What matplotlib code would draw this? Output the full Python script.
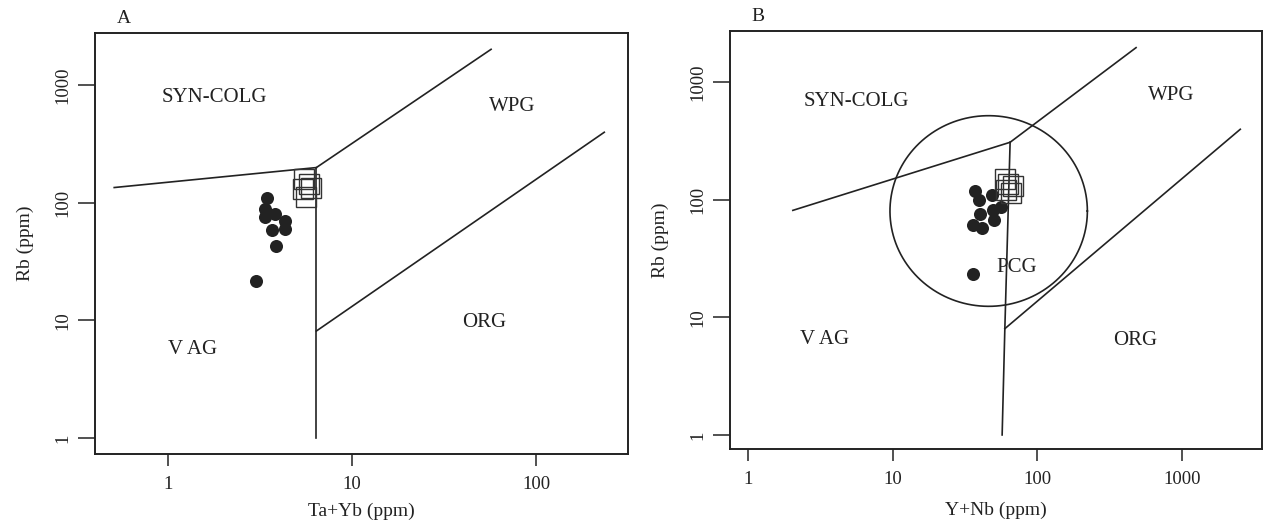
import numpy as np
import matplotlib
matplotlib.use("Agg")
import matplotlib.pyplot as plt
from matplotlib.ticker import FixedLocator, NullLocator, FixedFormatter

plt.rcParams["font.family"] = ["Liberation Serif", "DejaVu Serif"]

INK = "#222222"

# ---- panel A: Rb vs Ta+Yb ----
a_circle_x = [3.47, 3.35, 3.38, 3.80, 4.31, 4.31, 3.69, 3.88, 2.99]
a_circle_y = [109.6, 88.4, 76.0, 80.2, 70.3, 59.8, 58.0, 42.7, 21.4]
a_square_x = [5.51, 5.97, 5.60, 5.40, 5.82]
a_square_y = [158.7, 134.0, 110.9, 131.4, 145.0]

a_bounds = [
    ([0.51, 6.4], [134, 198]),          # syn-COLG / VAG
    ([6.4, 57], [198, 2000]),           # syn-COLG / WPG
    ([6.4, 6.4], [198, 1]),             # VAG / ORG
    ([6.4, 235], [8.1, 395]),           # WPG / ORG
]
a_labels = [("SYN-COLG", 0.92, 780), ("WPG", 55.3, 655),
            ("ORG", 39.5, 9.6), ("V AG", 1.0, 5.6)]

# ---- panel B: Rb vs Y+Nb ----
b_circle_x = [37.0, 39.7, 48.3, 40.1, 36.1, 41.4, 49.1, 55.7, 50.1, 35.7]
b_circle_y = [119.3, 100.0, 109.6, 75.0, 61.4, 57.5, 82.2, 86.0, 67.6, 23.5]
b_square_x = [59.4, 62.9, 66.0, 60.7, 67.8]
b_square_y = [150.0, 136.7, 114.7, 121.6, 131.5]

b_bounds = [
    ([2.04, 64.7], [81, 307]),              # syn-COLG / VAG
    ([64.7, 480], [307, 1956]),             # syn-COLG / WPG
    ([64.7, 59.5, 57], [307, 8, 1]),        # VAG / ORG
    ([59.5, 2520], [8, 396]),               # WPG / ORG
]
b_labels = [("SYN-COLG", 2.44, 684), ("WPG", 581, 769), ("ORG", 333, 6.3),
            ("V AG", 2.29, 6.5), ("PCG", 51.8, 26.3)]
# post-collision granite field: centre and radii in log decades
pcg_center = (46, 80)
pcg_radius = (0.682, 0.81)


def setup_axes(ax, xlim, ylim, xticks, yticks, xlabel, title, xpad):
    ax.set_xscale("log")
    ax.set_yscale("log")
    ax.set_xlim(*xlim)
    ax.set_ylim(*ylim)
    ax.xaxis.set_major_locator(FixedLocator(xticks))
    ax.xaxis.set_major_formatter(FixedFormatter([str(t) for t in xticks]))
    ax.yaxis.set_major_locator(FixedLocator(yticks))
    ax.yaxis.set_major_formatter(FixedFormatter([str(t) for t in yticks]))
    ax.xaxis.set_minor_locator(NullLocator())
    ax.yaxis.set_minor_locator(NullLocator())
    ax.tick_params(axis="x", direction="out", length=8.5, width=1.1,
                   color=INK, labelsize=13.5, pad=7, labelcolor=INK)
    ax.tick_params(axis="y", direction="out", length=12, width=1.1,
                   color=INK, labelsize=13.5, pad=5, labelcolor=INK)
    for lab in ax.get_yticklabels():
        lab.set_rotation(90)
        lab.set_va("center")
    for sp in ax.spines.values():
        sp.set_color(INK)
        sp.set_linewidth(1.4)
    ax.set_xlabel(xlabel, fontsize=14, color=INK, labelpad=xpad)
    ax.set_ylabel("Rb (ppm)", fontsize=14, color=INK, labelpad=15)
    ax.text(0.04, 1.015, title, transform=ax.transAxes, fontsize=14,
            color=INK, ha="left", va="bottom")


def draw_points(ax, cx, cy, sx, sy):
    ax.plot(cx, cy, "o", color=INK, markersize=9.4, markeredgewidth=0, zorder=3)
    ax.plot(sx, sy, "s", markerfacecolor="none", markeredgecolor="#333333",
            markersize=14.5, markeredgewidth=1.0, zorder=4)


fig = plt.figure(figsize=(12.65, 5.25), dpi=100)

ax1 = fig.add_axes([0.0751, 0.1352, 0.4213, 0.8019])
for xs, ys in a_bounds:
    ax1.plot(xs, ys, color=INK, linewidth=1.2)
draw_points(ax1, a_circle_x, a_circle_y, a_square_x, a_square_y)
for txt, x, y in a_labels:
    ax1.text(x, y, txt, fontsize=15, color=INK, ha="left", va="center")
setup_axes(ax1, (0.401, 316), (0.731, 2750), [1, 10, 100],
           [1, 10, 100, 1000], "Ta+Yb (ppm)", "A", 7.6)

ax2 = fig.add_axes([0.5771, 0.1448, 0.4206, 0.7962])
for xs, ys in b_bounds:
    ax2.plot(xs, ys, color=INK, linewidth=1.2)
t = np.linspace(0, 2 * np.pi, 300)
ax2.plot(10 ** (np.log10(pcg_center[0]) + pcg_radius[0] * np.cos(t)),
         10 ** (np.log10(pcg_center[1]) + pcg_radius[1] * np.sin(t)),
         color=INK, linewidth=1.2)
draw_points(ax2, b_circle_x, b_circle_y, b_square_x, b_square_y)
for txt, x, y in b_labels:
    ax2.text(x, y, txt, fontsize=15, color=INK, ha="left", va="center")
setup_axes(ax2, (0.751, 3565), (0.76, 2710), [1, 10, 100, 1000],
           [1, 10, 100, 1000], "Y+Nb (ppm)", "B", 10.5)

fig.savefig("out.png", dpi=100)
